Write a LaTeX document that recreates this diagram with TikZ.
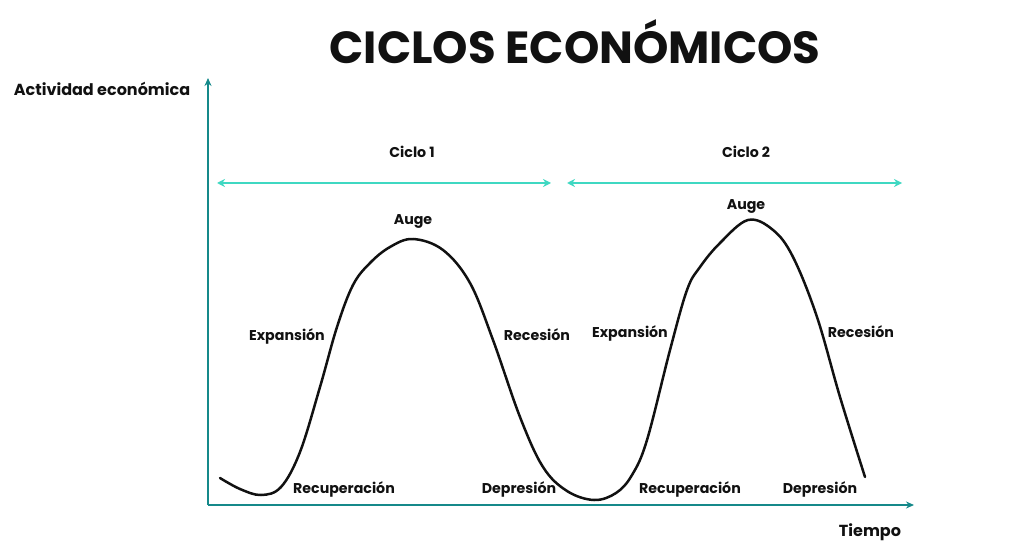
\documentclass[tikz,border=0pt]{standalone}
\usepackage{fontspec}
\setmainfont{Poppins}
\usepackage{xcolor}
\usetikzlibrary{arrows.meta, positioning, calc}
\definecolor{axisTeal}{HTML}{15898A}
\definecolor{cycleTeal}{HTML}{3FD8C2}
\definecolor{ink}{HTML}{111111}
\tikzset{
  axisLine/.style = {draw=axisTeal, line width=2.3pt, -{Stealth[length=8pt, width=7pt]}},
  cycleArrow/.style = {draw=cycleTeal, line width=2pt,
    {Stealth[length=8pt, width=8pt]}-{Stealth[length=8pt, width=8pt]}},
  phaseLabel/.style = {text=ink, font=\bfseries\fontsize{14.2}{16}\selectfont, inner sep=0pt},
  axisLabel/.style = {text=ink, font=\bfseries\fontsize{16}{18}\selectfont, inner sep=0pt},
  titleText/.style = {text=ink, font=\bfseries\fontsize{45}{50}\selectfont, inner sep=0pt},
  cycleCurve/.style = {draw=ink, line width=2.5pt, line cap=round},
}

\begin{document}
\begin{tikzpicture}[x=1pt, y=-1pt]
\useasboundingbox (0,0) rectangle (1024,553);

\node[titleText] (title) at (575,42) {CICLOS ECONÓMICOS};

% axes
\coordinate (origin) at (208,505);
\coordinate (yTop) at (208,78);
\coordinate (xEnd) at (914,505);
\draw[axisLine] (origin) -- (yTop);
\draw[axisLine] (origin) -- (xEnd);
\node[axisLabel] (yLab) at (102,89) {Actividad económica};
\node[axisLabel] (xLab) at (870,532) {Tiempo};

% cycle spans
\coordinate (c1a) at (217,183);
\coordinate (c1b) at (551,183);
\coordinate (c2a) at (567,183);
\coordinate (c2b) at (902,183);
\draw[cycleArrow] (c1a) -- (c1b);
\draw[cycleArrow] (c2a) -- (c2b);
\node[phaseLabel] (ciclo1) at (412,152) {Ciclo 1};
\node[phaseLabel] (ciclo2) at (746,152) {Ciclo 2};

% curve
\draw[cycleCurve] plot[smooth, tension=0.6] coordinates {
  (220,478) (240,489) (261,495) (281,487) (300,452) (320,387) (337,327)
  (353,285) (370,263) (390,247) (413,239) (443,250) (470,283) (493,340)
  (520,417) (543,467) (567,491) (594,500) (616,493) (632,475) (647,440)
  (670,350) (687,290) (700,267) (720,243) (748,220) (773,230) (793,257)
  (817,317) (840,397) (865,477)};

% phases
\node[phaseLabel] (auge1) at (413,221) {Auge};
\node[phaseLabel] (exp1) at (287,336) {Expansión};
\node[phaseLabel] (rec1) at (537,335) {Recesión};
\node[phaseLabel] (recu1) at (344,489) {Recuperación};
\node[phaseLabel] (dep1) at (519,489) {Depresión};
\node[phaseLabel] (auge2) at (746,206) {Auge};
\node[phaseLabel] (exp2) at (630,333) {Expansión};
\node[phaseLabel] (rec2) at (861,332) {Recesión};
\node[phaseLabel] (recu2) at (690,489) {Recuperación};
\node[phaseLabel] (dep2) at (820,489) {Depresión};

\end{tikzpicture}
\end{document}
